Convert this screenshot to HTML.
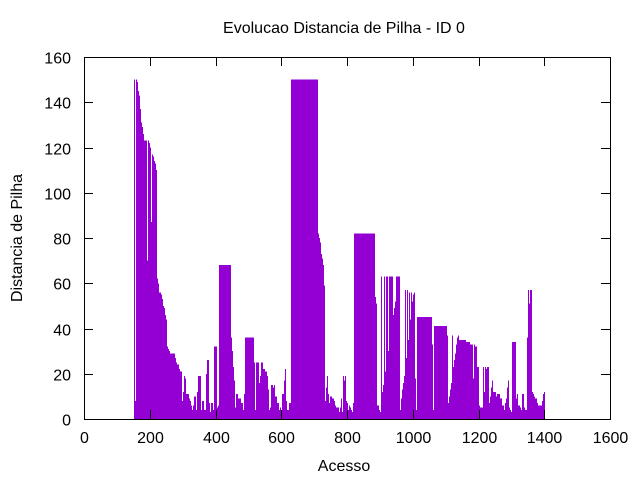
<!DOCTYPE html>
<html><head><meta charset="utf-8"><style>
html,body{margin:0;padding:0;background:#fff}
svg text{font-family:"Liberation Sans",sans-serif;font-size:16px;fill:#000}
</style></head><body>
<svg id="chart" width="640" height="480" viewBox="0 0 640 480">
<text x="344" y="33" text-anchor="middle">Evolucao Distancia de Pilha - ID 0</text>
<text x="344" y="471" text-anchor="middle">Acesso</text>
<text x="22" y="238" text-anchor="middle" transform="rotate(-90 22 238)">Distancia de Pilha</text>
<g id="bars" shape-rendering="crispEdges"></g>
<g id="axes" shape-rendering="crispEdges"></g>
</svg>
<script>
const xTicks = [0,200,400,600,800,1000,1200,1400,1600];
const yTicks = [0,20,40,60,80,100,120,140,160];
const accessStart = [152,155,158,161,164,167,170,173,177,180,183,192,195,198,201,204,207,210,213,216,219,222,225,228,234,237,240,243,246,250,253,256,259,262,277,280,283,289,292,298,301,304,307,310,319,323,326,329,332,335,341,344,347,356,359,365,371,374,380,383,386,392,396,405,408,411,447,450,453,456,459,462,469,478,484,487,490,517,520,523,532,535,538,545,551,557,560,563,566,569,575,578,581,587,593,596,599,602,608,611,615,618,624,630,712,715,718,721,724,727,730,733,736,739,742,745,748,754,761,764,767,776,779,782,785,788,791,794,797,800,803,806,809,812,815,818,821,885,888,891,897,900,903,907,910,913,916,919,925,928,940,943,946,949,961,964,967,970,973,976,980,983,986,989,992,995,998,1001,1004,1007,1010,1013,1059,1062,1065,1104,1107,1110,1113,1116,1119,1122,1126,1129,1132,1135,1138,1141,1162,1174,1183,1186,1189,1195,1202,1205,1214,1217,1220,1223,1226,1232,1235,1238,1241,1244,1253,1256,1265,1272,1278,1281,1284,1287,1290,1293,1296,1299,1302,1314,1317,1320,1326,1329,1332,1338,1341,1348,1351,1354,1357,1363,1366,1369,1372,1378,1381,1393,1396,1399];
const distance = [150,8,150,149,145,143,137,131,129,126,123,70,123,122,120,87,117,116,114,113,110,62,60,56,55,53,50,49,46,44,32,31,30,29,27,25,24,22,21,8,12,19,18,11,9,8,6,4,6,10,4,12,19,4,8,4,20,26,7,3,7,4,32,5,6,68,36,30,23,17,5,11,9,7,4,11,36,25,4,25,16,19,25,22,21,19,13,4,5,15,14,15,10,7,4,5,3,11,17,22,8,4,7,150,82,80,78,73,71,68,59,8,14,19,11,7,10,9,8,6,5,3,5,9,3,19,17,19,8,7,4,6,5,4,3,7,82,54,51,6,4,3,63,12,15,63,21,63,30,63,46,49,52,63,4,9,13,16,19,57,27,57,35,56,44,56,52,55,56,18,4,45,33,4,41,37,7,10,13,16,37,23,26,29,33,36,37,35,34,33,18,33,32,23,6,5,23,12,23,22,23,7,10,14,17,12,10,11,9,6,4,7,9,14,17,5,4,3,34,9,11,6,5,4,11,5,4,36,57,51,57,12,11,10,9,7,6,8,11,12];
const accessEnd = 1402;

const L=84,R=610,T=57,B=419;
const xMin=0,xMax=1600,yMin=0,yMax=160;
const sx=v=>L+(v-xMin)/(xMax-xMin)*(R-L);
const sy=v=>B-(v-yMin)/(yMax-yMin)*(B-T);
const NS="http://www.w3.org/2000/svg";
const bars=document.getElementById('bars');
for(let i=0;i<distance.length;i++){
  const x0=Math.round(sx(accessStart[i]));
  const x1=Math.round(sx(i+1<accessStart.length?accessStart[i+1]:accessEnd));
  const r=document.createElementNS(NS,'rect');
  r.setAttribute('x',x0);r.setAttribute('width',Math.max(x1-x0,1));
  r.setAttribute('y',sy(distance[i]));r.setAttribute('height',sy(0)-sy(distance[i]));
  r.setAttribute('fill','#9400d3');
  
  
  bars.appendChild(r);
}
const axes=document.getElementById('axes');
function line(x1,y1,x2,y2,name){
  const l=document.createElementNS(NS,'line');
  l.setAttribute('x1',x1);l.setAttribute('y1',y1);l.setAttribute('x2',x2);l.setAttribute('y2',y2);
  l.setAttribute('stroke','#000');l.setAttribute('stroke-width','1');
  
  
  axes.appendChild(l);
}
function text(x,y,s,anchor,name){
  const t=document.createElementNS(NS,'text');
  t.setAttribute('x',x);t.setAttribute('y',y);t.setAttribute('text-anchor',anchor);
  t.setAttribute('shape-rendering','auto');
  t.textContent=s;
  
  
  axes.appendChild(t);
}
xTicks.forEach(v=>{const x=Math.round(sx(v))+0.5;
  line(x,B,x,B-9,'x-tick');line(x,T,x,T+9,'x-tick-mirror');
  text(x,443,String(v),'middle','x-tick-label');});
yTicks.forEach(v=>{const y=Math.round(sy(v))+0.5;
  line(L,y,L+9,y,'y-tick');line(R,y,R-9,y,'y-tick-mirror');
  text(71,y+6,String(v),'end','y-tick-label');});
const f=document.createElementNS(NS,'rect');
f.setAttribute('x',L+0.5);f.setAttribute('y',T+0.5);f.setAttribute('width',R-L);f.setAttribute('height',B-T);
f.setAttribute('fill','none');f.setAttribute('stroke','#000');


axes.appendChild(f);
</script>
</body></html>
